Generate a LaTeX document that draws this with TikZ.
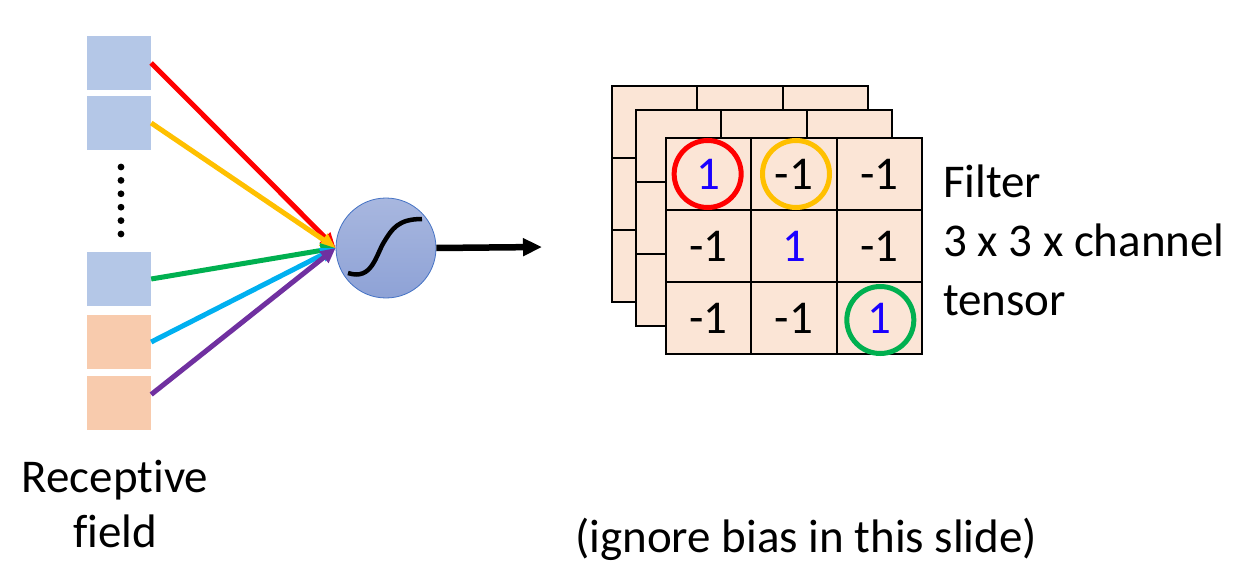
\documentclass[tikz,border=0pt]{standalone}
\usepackage{fontspec}
\setmainfont[Ligatures=NoCommon]{Carlito}
\usepackage{xcolor}
\usepackage{tikz}
\usetikzlibrary{arrows.meta,positioning,shapes.misc}
\definecolor{rfBlue}{HTML}{B4C7E7}
\definecolor{rfOrange}{HTML}{F8CBAD}
\definecolor{filterPink}{HTML}{FBE5D6}
\definecolor{neuronTop}{HTML}{A8B7DF}
\definecolor{neuronBot}{HTML}{8EA2D6}
\definecolor{neuronEdge}{HTML}{4472C4}
\definecolor{wRed}{HTML}{FF0000}
\definecolor{wYellow}{HTML}{FFC000}
\definecolor{wGreen}{HTML}{00B050}
\definecolor{wCyan}{HTML}{00B0F0}
\definecolor{wPurple}{HTML}{7030A0}
\definecolor{oneBlue}{HTML}{1A00FF}

\begin{document}
\begin{tikzpicture}[x=1pt,y=-1pt,font=\fontsize{47}{56}\selectfont,
  rfbox/.style={minimum width=64pt,minimum height=54pt,inner sep=0pt},
  wire/.style={line width=5pt,-{Triangle[length=15pt,width=14pt]}},
  cellnode/.style={draw,line width=2pt,fill=filterPink,minimum width=85.3pt,minimum height=72pt,inner sep=0pt},
  ring/.style={draw=#1,circle,line width=5pt,minimum size=67pt,inner sep=0pt}]
\useasboundingbox (0,0) rectangle (1234,572);
% receptive field
\node[rfbox,fill=rfBlue]   (rf1) at (119,63) {};
\node[rfbox,fill=rfBlue]   (rf2) at (119,123) {};
\node[rfbox,fill=rfBlue]   (rf3) at (119,279) {};
\node[rfbox,fill=rfOrange] (rf4) at (119,342) {};
\node[rfbox,fill=rfOrange] (rf5) at (119,402.5) {};
\foreach \k in {0,...,5}{
  \fill (121,167+\k*13.4) circle (3.4pt);
}
\node[align=center,anchor=base,font=\fontsize{47}{55}\selectfont] (rflbl) at (115,547) {Receptive\\field};
% neuron with sigmoid
\node[circle,minimum size=100pt,inner sep=0pt,draw=neuronEdge,line width=0.8pt,
  top color=neuronTop,bottom color=neuronBot] (neuron) at (386,248) {};
\begin{scope}[shift={(neuron.center)}]
  \draw[line width=4.5pt] (-38,25) .. controls (-14,33) and (-10,7) .. (-2,-6)
    .. controls (6,-19) and (12,-29) .. (36,-29);
\end{scope}
\draw[wire,wRed]    (rf1.east) -- (neuron.west);
\draw[wire,wYellow] (rf2.east) -- (neuron.west);
\draw[wire,wGreen]  (rf3.east) -- (neuron.west);
\draw[wire,wCyan]   (rf4.east) -- (neuron.west);
\draw[wire,wPurple] ([yshift=8pt]rf5.east) -- (neuron.west);
\coordinate (outtip) at (542,247);
\draw[line width=6.5pt,-{Triangle[length=19pt,width=17pt]}] (neuron.east) -- (outtip);
% filter channels behind
\foreach \dx/\dy in {-54/-52,-30/-28}{
  \foreach \i in {0,1,2}{
    \foreach \j in {0,1,2}{
      \draw[line width=2pt,fill=filterPink] (666+\dx+\j*85.33,138+\dy+\i*72) rectangle ++(85.33,72);
    }
  }
}
% front channel
\foreach \i/\j/\v/\col in {1/1/1/oneBlue,1/2/-1/black,1/3/-1/black,
                           2/1/-1/black,2/2/1/oneBlue,2/3/-1/black,
                           3/1/-1/black,3/2/-1/black,3/3/1/oneBlue}{
  \node[cellnode,text=\col] (c\i\j) at (666+\j*85.33-42.67,138+\i*72-36) {\v};
}
\node[ring=wRed]    (r11) at ([xshift=-1pt]c11) {};
\node[ring=wYellow] (r12) at ([xshift=2pt]c12) {};
\node[ring=wGreen]  (r33) at ([xshift=1pt,yshift=-2pt]c33) {};
% labels
\node[align=left,anchor=base west,inner sep=0pt,font=\fontsize{47}{59}\selectfont] (filterlbl) at (943,315)
  {Filter\\3 x 3 x channel\\tensor};
\node[anchor=base west,inner sep=0pt] (biaslbl) at (575,552) {(ignore bias in this slide)};
\end{tikzpicture}
\end{document}
